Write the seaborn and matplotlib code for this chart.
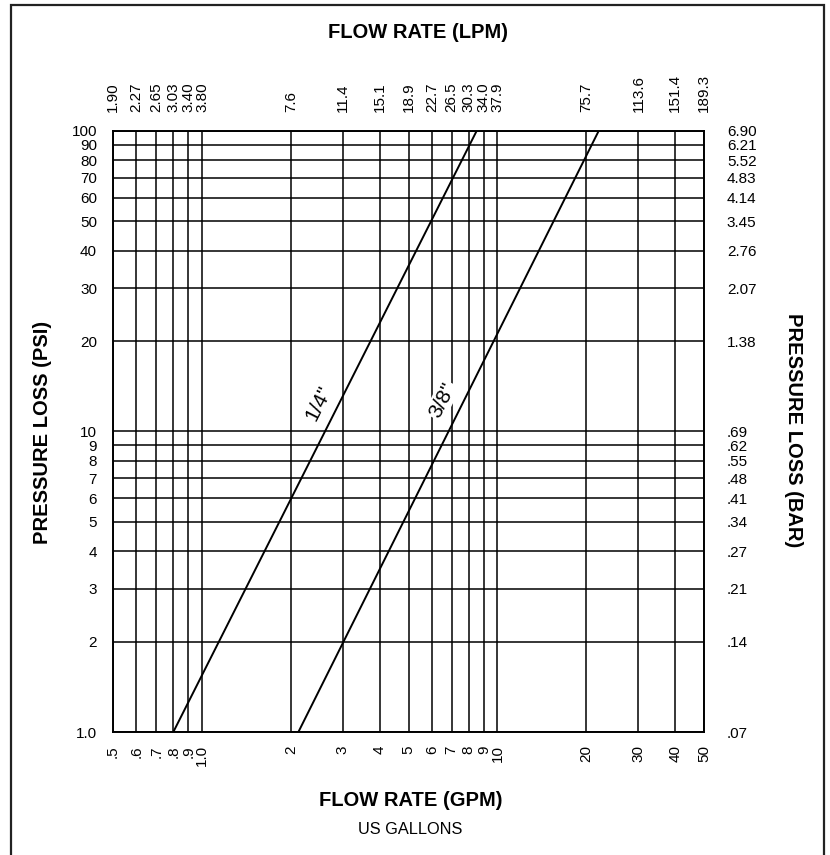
import matplotlib
matplotlib.use("Agg")
import matplotlib.pyplot as plt
import matplotlib.patches as mpatches
import pandas as pd
import seaborn as sb

# flow (GPM) grid and the matching LPM labels on top
gpm_ticks = [0.5, 0.6, 0.7, 0.8, 0.9, 1.0, 2, 3, 4, 5, 6, 7, 8, 9, 10, 20, 30, 40, 50]
gpm_labels = ['.5', '.6', '.7', '.8', '.9', '1.0', '2', '3', '4', '5', '6', '7', '8', '9', '10',
              '20', '30', '40', '50']
lpm_labels = ['1.90', '2.27', '2.65', '3.03', '3.40', '3.80', '7.6', '11.4', '15.1', '18.9', '22.7',
              '26.5', '30.3', '34.0', '37.9', '75.7', '113.6', '151.4', '189.3']

# pressure (PSI) grid and the matching BAR labels on the right
psi_ticks = [1, 2, 3, 4, 5, 6, 7, 8, 9, 10, 20, 30, 40, 50, 60, 70, 80, 90, 100]
psi_labels = ['1.0', '2', '3', '4', '5', '6', '7', '8', '9', '10', '20', '30', '40', '50', '60',
              '70', '80', '90', '100']
bar_labels = ['.07', '.14', '.21', '.27', '.34', '.41', '.48', '.55', '.62', '.69', '1.38', '2.07',
              '2.76', '3.45', '4.14', '4.83', '5.52', '6.21', '6.90']

# hose curves (straight on log-log)
quarter_gpm = [0.80, 8.5]
quarter_psi = [1.0, 100]
three_eighth_gpm = [2.12, 22.0]
three_eighth_psi = [1.0, 100]

sb.set_theme(style="white")
plt.rcParams['font.family'] = ['Liberation Sans', 'DejaVu Sans']
plt.rcParams['text.color'] = 'black'
plt.rcParams['xtick.color'] = 'black'
plt.rcParams['ytick.color'] = 'black'

fig = plt.figure(figsize=(8.30, 8.55), dpi=100)
ax = fig.add_axes([113 / 830, 1 - 732 / 855, (704 - 113) / 830, (732 - 131) / 855])

df = pd.concat([
    pd.DataFrame({'gpm': quarter_gpm, 'psi': quarter_psi, 'hose': '1/4"'}),
    pd.DataFrame({'gpm': three_eighth_gpm, 'psi': three_eighth_psi, 'hose': '3/8"'}),
])
sb.lineplot(data=df, x='gpm', y='psi', units='hose', estimator=None, color='black',
             linewidth=1.4, ax=ax, legend=False)

ax.set_xscale('log')
ax.set_yscale('log')
ax.set_xlim(0.5, 50)
ax.set_ylim(1, 100)
ax.minorticks_off()

for g in gpm_ticks:
    ax.axvline(g, color='black', linewidth=1.1, zorder=1)
for p in psi_ticks:
    ax.axhline(p, color='black', linewidth=1.1, zorder=1)

ax.set_xticks(gpm_ticks)
ax.set_xticklabels(gpm_labels, rotation=90, fontsize=11)
ax.set_yticks(psi_ticks)
ax.set_yticklabels(psi_labels, fontsize=11)
ax.tick_params(axis='x', length=0, pad=9.5)
ax.tick_params(axis='y', length=0, pad=11.5)
ax.set_xlabel('')
ax.set_ylabel('')
for s in ax.spines.values():
    s.set_color('black')
    s.set_linewidth(1.4)

top = ax.twiny()
top.set_xscale('log')
top.set_xlim(ax.get_xlim())
top.minorticks_off()
top.set_xticks(gpm_ticks)
top.set_xticklabels(lpm_labels, rotation=90, fontsize=11)
top.tick_params(axis='x', length=0, pad=13.5)

right = ax.twinx()
right.set_yscale('log')
right.set_ylim(ax.get_ylim())
right.minorticks_off()
right.set_yticks(psi_ticks)
right.set_yticklabels(bar_labels, fontsize=11)
right.tick_params(axis='y', length=0, pad=16.5)
for a in (top, right):
    for s in a.spines.values():
        s.set_visible(False)

# hose size labels knock out the grid behind them
label_box = dict(facecolor='white', edgecolor='none', pad=1)
ax.text(2.49, 12.4, '1/4"', rotation=63, fontsize=15, ha='center', va='center',
        rotation_mode='anchor', bbox=label_box, zorder=3)
ax.text(6.5, 12.7, '3/8"', rotation=63, fontsize=15, ha='center', va='center',
        rotation_mode='anchor', bbox=label_box, zorder=3)

fig.text(418 / 830, 1 - 33 / 855, 'FLOW RATE (LPM)', ha='center', va='center',
         fontsize=14.5, fontweight='bold')
fig.text(411 / 830, 1 - 800 / 855, 'FLOW RATE (GPM)', ha='center', va='center',
         fontsize=14.5, fontweight='bold')
fig.text(410 / 830, 1 - 829 / 855, 'US GALLONS', ha='center', va='center', fontsize=11.8)
fig.text(42 / 830, 1 - 432 / 855, 'PRESSURE LOSS (PSI)', ha='center', va='center',
         rotation=90, fontsize=14.5, fontweight='bold')
fig.text(793 / 830, 1 - 430 / 855, 'PRESSURE LOSS (BAR)', ha='center', va='center',
         rotation=-90, fontsize=14.5, fontweight='bold')

# outer frame, open at the bottom edge
fig.patches.append(mpatches.Rectangle((11 / 830, -0.05), (824 - 11) / 830, 1.05 - 5 / 855,
                                      transform=fig.transFigure, fill=False,
                                      edgecolor='#222222', linewidth=1.6))

fig.savefig('out.png', dpi=100)
